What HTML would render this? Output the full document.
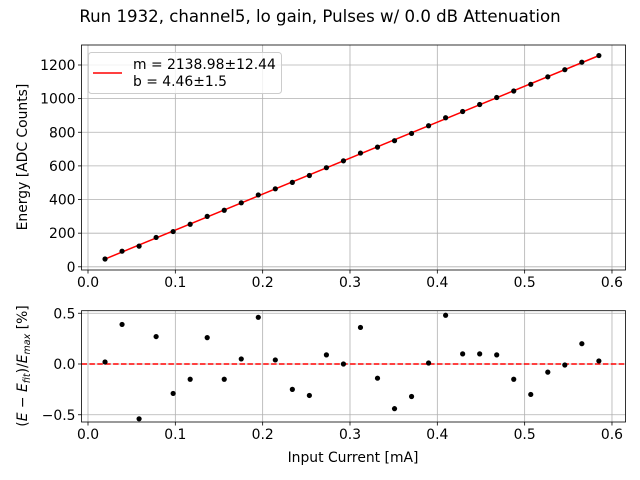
<!DOCTYPE html>
<html><head><meta charset="utf-8"><style>
body{margin:0;background:#fff}
svg{display:block;font-family:"DejaVu Sans","Liberation Sans",sans-serif}
</style></head><body>
<svg id="chart" width="640" height="480" viewBox="0 0 640 480">
<text x="320" y="22" text-anchor="middle" font-size="16.6" fill="#000">Run 1932, channel5, lo gain, Pulses w/ 0.0 dB Attenuation</text>
<g id="topPlot"></g>
<g id="botPlot"></g>
<text transform="translate(27,157) rotate(-90)" text-anchor="middle" font-size="13.9">Energy [ADC Counts]</text>
<text transform="translate(27,366) rotate(-90)" text-anchor="middle" font-size="13.9">(<tspan font-style="italic">E</tspan> − <tspan font-style="italic">E</tspan><tspan font-size="9.5" dy="3" font-style="italic">fit</tspan><tspan dy="-3">)/</tspan><tspan font-style="italic">E</tspan><tspan font-size="9.5" dy="3" font-style="italic">max</tspan><tspan dy="-3"> [%]</tspan></text>
<text x="353" y="462" text-anchor="middle" font-size="13.9">Input Current [mA]</text>
<g>
<rect x="88.5" y="52.5" width="193" height="41" rx="3" fill="#fff" fill-opacity="0.8" stroke="#ccc"/>
<line x1="93" y1="73" x2="122" y2="73" stroke="red" stroke-width="1.5"/>
<text x="133" y="69" font-size="13.9">m = 2138.98±12.44</text>
<text x="133" y="86" font-size="13.9">b = 4.46±1.5</text>
</g>
</svg>
<script>
const currents=[0.0195,0.039,0.0585,0.078,0.0975,0.117,0.1365,0.156,0.1755,0.195,0.2145,0.234,0.2535,0.273,0.2925,0.312,0.3315,0.351,0.3705,0.39,0.4095,0.429,0.4485,0.468,0.4875,0.507,0.5265,0.546,0.5655,0.585];
const energies=[46.4,92.8,122.8,174.7,209.4,252.8,299.7,336.2,380.5,427.4,463.8,501.9,542.8,589.5,630.1,676.3,711.7,749.8,793.0,838.8,886.4,923.4,965.1,1006.6,1045.3,1085.1,1129.6,1172.2,1216.6,1256.2];
const residuals=[0.02,0.39,-0.54,0.27,-0.29,-0.15,0.26,-0.15,0.05,0.46,0.04,-0.25,-0.31,0.09,0.0,0.36,-0.14,-0.44,-0.32,0.01,0.48,0.10,0.10,0.09,-0.15,-0.30,-0.08,-0.01,0.20,0.03];
const slope=2138.98, intercept=4.46;
const xTicks=[0,0.1,0.2,0.3,0.4,0.5,0.6];
const xTickLabels=["0.0","0.1","0.2","0.3","0.4","0.5","0.6"];
const yTicks=[0,200,400,600,800,1000,1200];
const rTicks=[-0.5,0,0.5];
const rTickLabels=["−0.5","0.0","0.5"];

const NS="http://www.w3.org/2000/svg";
function mk(parent,tag,attrs){const e=document.createElementNS(NS,tag);for(const k in attrs)e.setAttribute(k,attrs[k]);parent.appendChild(e);return e;}
const L=81.5,R=625.5;
const sx=v=>88+v*873.3;
const syT=v=>266.8-v*(266.8-65)/1200;
const syB=v=>364-v*101.5;

function axes(g,y0,y1,yt,ylab,sy,pref){
  mk(g,'rect',{x:L,y:y0,width:R-L,height:y1-y0,fill:'#fff'});
  xTicks.forEach((t,i)=>{
    const l=mk(g,'line',{x1:sx(t),x2:sx(t),y1:y0,y2:y1,stroke:'#b0b0b0','stroke-width':0.8});
    
    
    mk(g,'line',{x1:sx(t),x2:sx(t),y1:y1,y2:y1+3.5,stroke:'#000','stroke-width':0.8});
    const tx=mk(g,'text',{x:sx(t),y:y1+17,'text-anchor':'middle','font-size':13.9});
    tx.textContent=xTickLabels[i];
    
    
  });
  yt.forEach((t,i)=>{
    const l=mk(g,'line',{x1:L,x2:R,y1:sy(t),y2:sy(t),stroke:'#b0b0b0','stroke-width':0.8});
    
    
    mk(g,'line',{x1:L-3.5,x2:L,y1:sy(t),y2:sy(t),stroke:'#000','stroke-width':0.8});
    const tx=mk(g,'text',{x:L-6,y:sy(t)+5,'text-anchor':'end','font-size':13.9});
    tx.textContent=ylab[i];
    
    
  });
}
const gTop=document.getElementById('topPlot');
axes(gTop,45,270,yTicks,yTicks.map(String),syT,'');
const fit=mk(gTop,'line',{x1:sx(currents[0]),y1:syT(slope*currents[0]+intercept),x2:sx(currents[currents.length-1]),y2:syT(slope*currents[currents.length-1]+intercept),stroke:'red','stroke-width':1.5});


currents.forEach((c,i)=>{
  const p=mk(gTop,'circle',{cx:sx(c),cy:syT(energies[i]),r:2.6,fill:'#000'});
  
  
});
mk(gTop,'rect',{x:L,y:45,width:R-L,height:225,fill:'none',stroke:'#000','stroke-width':0.8});

const gBot=document.getElementById('botPlot');
axes(gBot,310.7,422,rTicks,rTickLabels,syB,'residual-');
const zl=mk(gBot,'line',{x1:L,x2:R,y1:syB(0),y2:syB(0),stroke:'red','stroke-width':1.5,'stroke-dasharray':'5.5,2.4'});


currents.forEach((c,i)=>{
  const p=mk(gBot,'circle',{cx:sx(c),cy:syB(residuals[i]),r:2.6,fill:'#000'});
  
  
});
mk(gBot,'rect',{x:L,y:310.7,width:R-L,height:111.3,fill:'none',stroke:'#000','stroke-width':0.8});
</script>
</body></html>
